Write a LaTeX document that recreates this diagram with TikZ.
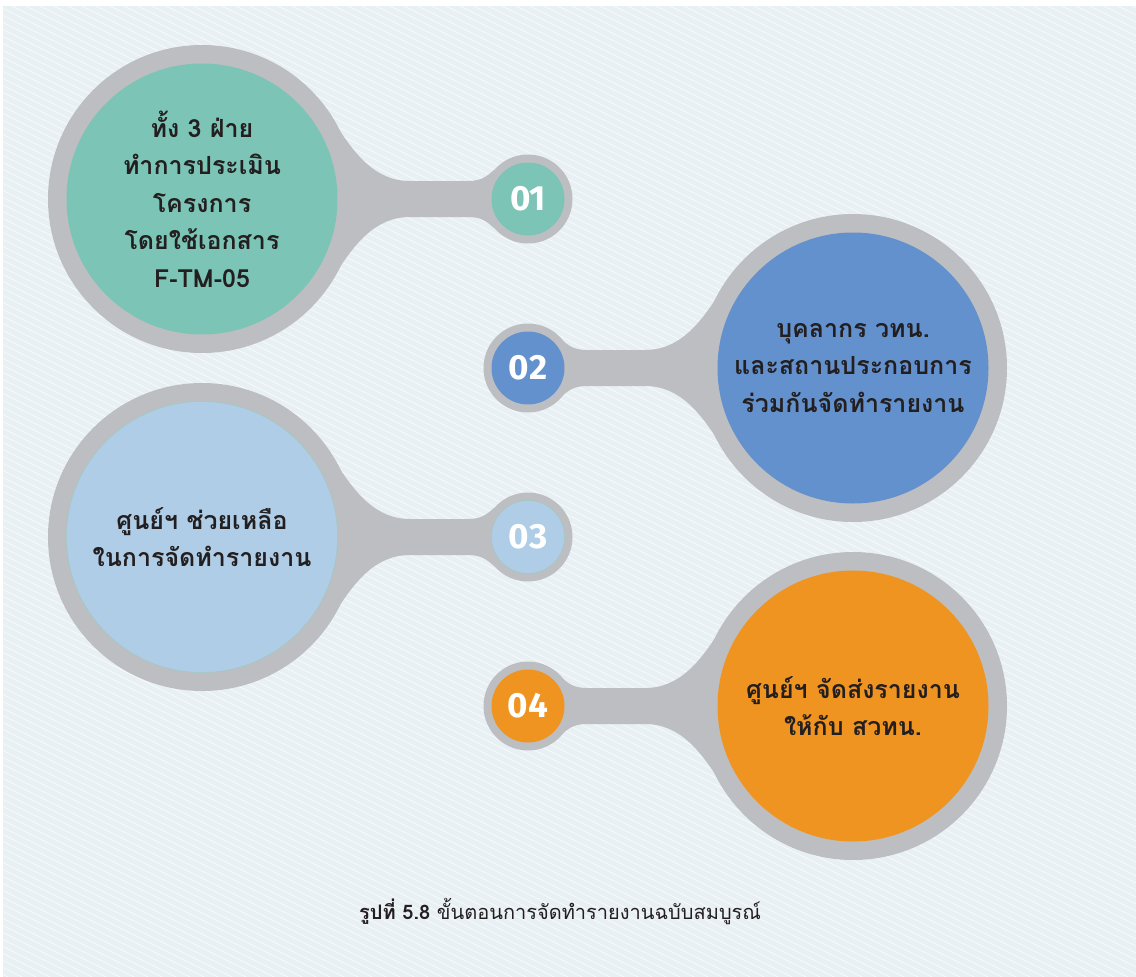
\documentclass[tikz,border=0pt]{standalone}
\usepackage{fontspec}
\newfontfamily\thaifont[Script=Thai]{Loma}
\newfontfamily\numfont{Fira Sans}
\definecolor{bgcol}{HTML}{E8F0F4}
\definecolor{ringcol}{HTML}{BDBEC1}
\definecolor{tealc}{HTML}{7BC4B6}
\definecolor{bluec}{HTML}{6391CD}
\definecolor{lightbluec}{HTML}{AFCDE6}
\definecolor{orangec}{HTML}{F09421}
\definecolor{textdark}{HTML}{231F20}
\definecolor{thinteal}{HTML}{9CCBC4}
\tikzset{
  bigdisc/.style={circle, minimum size=271pt, inner sep=0pt, align=center,
    font=\thaifont\bfseries\fontsize{25}{37.5}\selectfont, text=textdark},
  smalldisc/.style={circle, minimum size=73pt, inner sep=0pt,
    font=\numfont\bfseries\fontsize{35}{35}\selectfont, text=white},
  ringfill/.style={fill=ringcol},
  stripe/.style={white, line width=0.8pt, opacity=0.7},
}
\newcommand\drawneck[2]{% #1 anchor coordinate name, #2 xscale
  \begin{scope}[shift={(#1)}, xscale=#2]
    \fill[ringfill] (131,-79) .. controls (152,-45) and (173,-18) .. (208,-18)
      -- (266,-18) .. controls (280,-18) and (285,-23) .. (292,-29)
      -- (292,29) .. controls (285,23) and (280,18) .. (266,18)
      -- (208,18) .. controls (173,18) and (152,45) .. (131,79) -- cycle;
  \end{scope}}
\begin{document}
\begin{tikzpicture}[x=1pt, y=-1pt]
\useasboundingbox (0,0) rectangle (1136,977);
\fill[white] (0,0) rectangle (1136,977);
\fill[bgcol] (3,6) rectangle (1136,977);
\begin{scope}
  \clip (3,6) rectangle (1136,977);
  \foreach \k in {-84,...,140} {
    \draw[stripe] (0,7*\k) -- (1136,7*\k+568);
  }
\end{scope}
% centres
\coordinate (B1) at (202,199);  \coordinate (S1) at (528,199);
\coordinate (B2) at (853,368);  \coordinate (S2) at (528,368);
\coordinate (B3) at (202,537);  \coordinate (S3) at (528,537);
\coordinate (B4) at (853,706);  \coordinate (S4) at (528,706);
% grey rings and necks
\foreach \b/\s in {B1/S1,B2/S2,B3/S3,B4/S4} {
  \fill[ringfill] (\b) circle[radius=154pt];
  \fill[ringfill] (\s) circle[radius=44.5pt];
}
\drawneck{B1}{1}
\drawneck{B2}{-1}
\drawneck{B3}{1}
\drawneck{B4}{-1}
% coloured discs
\node[bigdisc, fill=tealc] (c1) at (B1) {ทั้ง 3 ฝ่าย\\ทำการประเมิน\\โครงการ\\โดยใช้เอกสาร\\F-TM-05};
\node[smalldisc, fill=tealc] (n1) at (S1) {01};
\node[bigdisc, fill=bluec] (c2) at (B2) {บุคลากร วทน.\\และสถานประกอบการ\\ร่วมกันจัดทำรายงาน};
\node[smalldisc, fill=bluec] (n2) at (S2) {02};
\node[bigdisc, fill=lightbluec, draw=thinteal, line width=0.5pt] (c3) at (B3) {ศูนย์ฯ ช่วยเหลือ\\ในการจัดทำรายงาน};
\node[smalldisc, fill=lightbluec, draw=thinteal, line width=0.5pt] (n3) at (S3) {03};
\node[bigdisc, fill=orangec] (c4) at (B4) {ศูนย์ฯ จัดส่งรายงาน\\ให้กับ สวทน.};
\node[smalldisc, fill=orangec] (n4) at (S4) {04};
% caption
\node[font=\thaifont\fontsize{20}{20}\selectfont, text=textdark] (cap) at (560,912)
  {\textbf{รูปที่ 5.8} ขั้นตอนการจัดทำรายงานฉบับสมบูรณ์};
\end{tikzpicture}
\end{document}
